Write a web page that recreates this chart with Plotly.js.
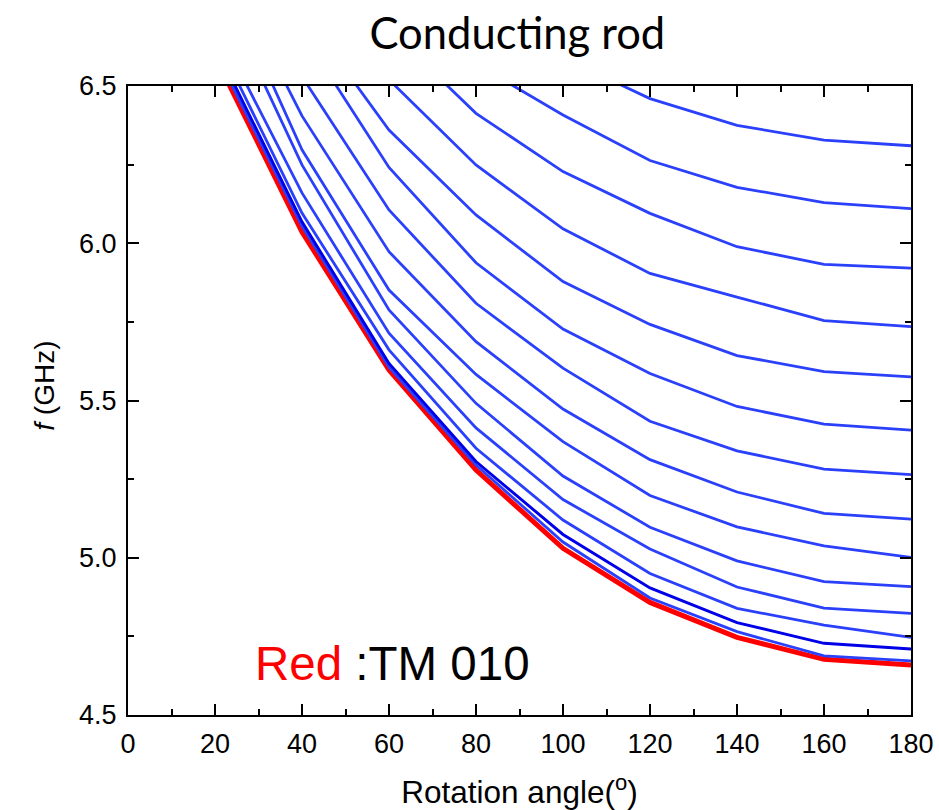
<!DOCTYPE html>
<html>
<head>
<meta charset="utf-8">
<script src="https://cdn.plot.ly/plotly-3.0.1.min.js"></script>
<style>html,body{margin:0;padding:0;background:#fff;}#chart{width:939px;height:810px;}</style>
</head>
<body>
<div id="chart"></div>
<script>
// Rotation angle (degrees)
const angles = [20, 40, 60, 80, 100, 120, 140, 160, 180];

// Blue modes, from highest to lowest frequency (GHz)
const mode01 = [7.60, 7.30, 7.00, 6.78, 6.59, 6.46, 6.375, 6.328, 6.31];
const mode02 = [7.40, 7.10, 6.82, 6.57, 6.408, 6.263, 6.178, 6.129, 6.11];
const mode03 = [7.30, 6.98, 6.68, 6.413, 6.228, 6.095, 5.989, 5.933, 5.921];
const mode04 = [7.20, 6.85, 6.52, 6.249, 6.046, 5.904, 5.829, 5.754, 5.735];
const mode05 = [7.10, 6.74, 6.36, 6.090, 5.878, 5.742, 5.643, 5.592, 5.575];
const mode06 = [7.05, 6.67, 6.241, 5.938, 5.727, 5.586, 5.481, 5.425, 5.406];
const mode07 = [6.98, 6.53, 6.106, 5.809, 5.603, 5.434, 5.340, 5.282, 5.264];
const mode08 = [6.95, 6.405, 5.973, 5.687, 5.473, 5.312, 5.209, 5.141, 5.123];
const mode09 = [6.91, 6.297, 5.851, 5.583, 5.369, 5.198, 5.098, 5.038, 5.001];
const mode10 = [6.84, 6.249, 5.788, 5.491, 5.260, 5.097, 4.990, 4.924, 4.908];
const mode11 = [6.70, 6.160, 5.714, 5.413, 5.185, 5.028, 4.907, 4.840, 4.823];
const mode12 = [6.66, 6.096, 5.661, 5.348, 5.120, 4.950, 4.839, 4.786, 4.747];
const mode13 = [6.63, 6.068, 5.618, 5.306, 5.074, 4.904, 4.794, 4.728, 4.710]; // darker blue
const mode14 = [6.61, 6.055, 5.606, 5.295, 5.050, 4.872, 4.765, 4.688, 4.672];
// Red: TM 010
const tm010 = [6.595, 6.036, 5.597, 5.279, 5.030, 4.858, 4.747, 4.677, 4.659];

const xTicks = [0, 20, 40, 60, 80, 100, 120, 140, 160, 180];
const yTicks = [4.5, 5.0, 5.5, 6.0, 6.5];

const blueModes = [mode01, mode02, mode03, mode04, mode05, mode06, mode07,
                   mode08, mode09, mode10, mode11, mode12, mode13, mode14];

const LIGHT = '#2a40fb';
const DARK = '#0000e8';
const ARIAL = '"Liberation Sans", Arial, sans-serif';

const traces = [];
traces.push({x: angles, y: tm010, type: 'scatter', mode: 'lines',
  line: {color: '#ff0000', width: 5}, name: 'TM 010'});
blueModes.forEach((m, i) => {
  if (i === 12) return;
  traces.push({x: angles, y: m, type: 'scatter', mode: 'lines',
    line: {color: LIGHT, width: 2.8}, name: 'mode ' + (i + 1)});
});
traces.push({x: angles, y: mode13, type: 'scatter', mode: 'lines',
  line: {color: DARK, width: 2.9}, name: 'mode 13'});

const axisCommon = {
  showgrid: false, zeroline: false, showline: true, linecolor: '#000', linewidth: 2,
  mirror: 'ticks', ticks: 'inside', ticklen: 11, tickwidth: 2, tickcolor: '#000',
  tickfont: {family: ARIAL, size: 27, color: '#000'}
};

const layout = {
  width: 939, height: 810,
  margin: {l: 128, r: 28, t: 86, b: 95},
  paper_bgcolor: '#fff', plot_bgcolor: '#fff',
  showlegend: false,
  title: {text: 'Conducting rod', x: 0.551, xanchor: 'center', y: 0.958, yanchor: 'middle',
    font: {family: 'Lato, "Open Sans", sans-serif', size: 43.5, color: '#000'}},
  xaxis: Object.assign({}, axisCommon, {
    range: [0, 180], tickvals: xTicks, ticktext: xTicks.map(String),
    ticklabelstandoff: 4,
    minor: {dtick: 10, tick0: 0, ticks: 'inside', ticklen: 6, tickwidth: 2, tickcolor: '#000', showgrid: false},
    title: {text: 'Rotation angle(<sup>o</sup>)', standoff: 26,
      font: {family: ARIAL, size: 31.5, color: '#000'}}
  }),
  yaxis: Object.assign({}, axisCommon, {
    range: [4.5, 6.5], tickvals: yTicks, ticktext: yTicks.map(v => v.toFixed(1)),
    ticklabelstandoff: 4,
    minor: {dtick: 0.25, tick0: 4.5, ticks: 'inside', ticklen: 6, tickwidth: 2, tickcolor: '#000', showgrid: false}
  }),
  annotations: [{
    xref: 'x', yref: 'y', x: 28.7, y: 4.665, xanchor: 'left', yanchor: 'middle',
    text: '<span style="color:#ff0000">Red</span> :TM 010', showarrow: false,
    font: {family: ARIAL, size: 47.5, color: '#000'}
  }, {
    xref: 'paper', yref: 'paper', x: -0.106, y: 0.5235, xanchor: 'center', yanchor: 'middle',
    textangle: -90, text: '<i>f</i> (GHz)', showarrow: false,
    font: {family: ARIAL, size: 28, color: '#000'}
  }]
};

Plotly.newPlot('chart', traces, layout, {staticPlot: true, displayModeBar: false});
</script>
</body>
</html>
